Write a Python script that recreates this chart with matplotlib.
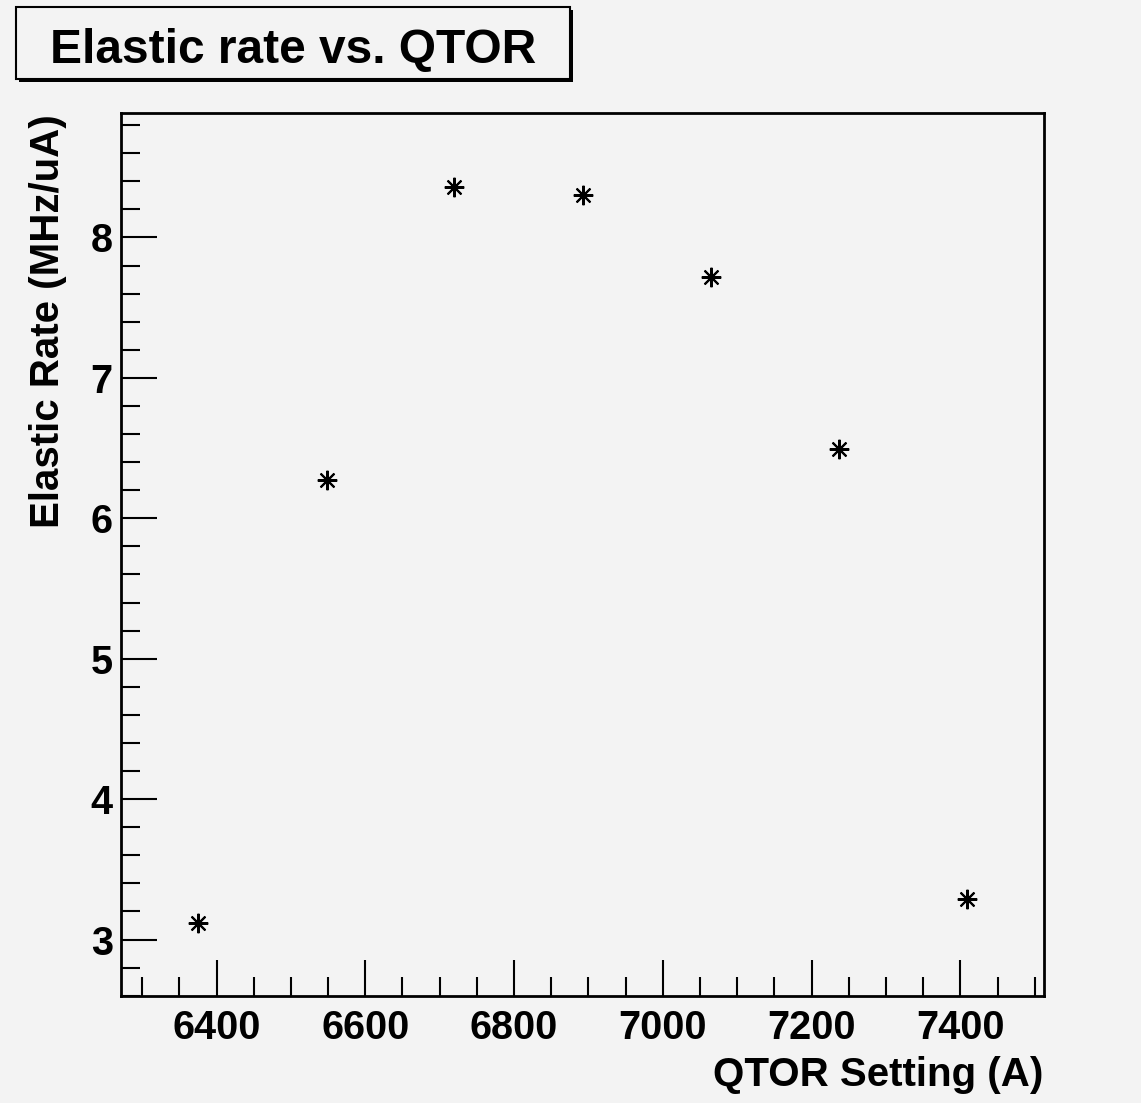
import matplotlib
matplotlib.use("Agg")
import matplotlib.pyplot as plt
from matplotlib.patches import Rectangle
from matplotlib.ticker import MultipleLocator

# QTOR current setting (A) and elastic rate (MHz/uA)
qtor = [6375, 6548, 6719, 6893, 7065, 7237, 7409]
rate = [3.12, 6.27, 8.36, 8.30, 7.72, 6.49, 3.29]

W, H = 1141, 1103
bg = "#f3f3f3"
plt.rcParams["font.family"] = ["Liberation Sans", "DejaVu Sans"]
plt.rcParams["font.weight"] = "bold"

fig = plt.figure(figsize=(W / 100, H / 100), dpi=100, facecolor=bg)

def px(x0, y0, x1, y1):
    return [x0 / W, 1 - y1 / H, (x1 - x0) / W, (y1 - y0) / H]

ax = fig.add_axes(px(121, 113.3, 1044, 996.3))
ax.set_facecolor(bg)

# ROOT-style auto range: 10% margin on each side
xr = max(qtor) - min(qtor)
yr = max(rate) - min(rate)
ax.set_xlim(min(qtor) - 0.1 * xr, max(qtor) + 0.1 * xr)
ax.set_ylim(min(rate) - 0.1 * yr, max(rate) + 0.1 * yr)

ax.plot(qtor, rate, linestyle="none", marker=(8, 2, 0), markersize=14,
        markeredgewidth=1.5, color="black")
ax.plot(qtor, rate, linestyle="none", marker="o", markersize=3.5, color="black")

ax.xaxis.set_major_locator(MultipleLocator(200))
ax.xaxis.set_minor_locator(MultipleLocator(50))
ax.yaxis.set_major_locator(MultipleLocator(1))
ax.yaxis.set_minor_locator(MultipleLocator(0.2))
ax.tick_params(which="both", direction="in", top=False, right=False, width=1.5)
ax.tick_params(which="major", length=26, labelsize=28.5, pad=9)
ax.tick_params(which="minor", length=14)
ax.tick_params(axis="y", which="major", pad=6)
for lab in ax.get_xticklabels() + ax.get_yticklabels():
    lab.set_fontweight("bold")
for s in ax.spines.values():
    s.set_linewidth(2)

fig.text(1043 / W, 1 - 1086 / H, "QTOR Setting (A)", ha="right", va="baseline",
         fontsize=29, fontweight="bold")
fig.text(48 / W, 1 - 114 / H, "Elastic Rate (MHz/uA)", ha="center", va="top",
         rotation=90, fontsize=29, fontweight="bold")

# title box with shadow
fig.patches.append(Rectangle((19 / W, 1 - 82 / H), (570 - 16) / W, (79 - 7) / H,
                             transform=fig.transFigure, facecolor="black",
                             edgecolor="none"))
fig.patches.append(Rectangle((16 / W, 1 - 79 / H), (570 - 16) / W, (79 - 7) / H,
                             transform=fig.transFigure, facecolor=bg,
                             edgecolor="black", linewidth=1.5))
fig.text(293 / W, 1 - 63 / H, "Elastic rate vs. QTOR", ha="center", va="baseline",
         fontsize=34.5, fontweight="bold")

fig.savefig("out.png", dpi=100, facecolor=bg)
